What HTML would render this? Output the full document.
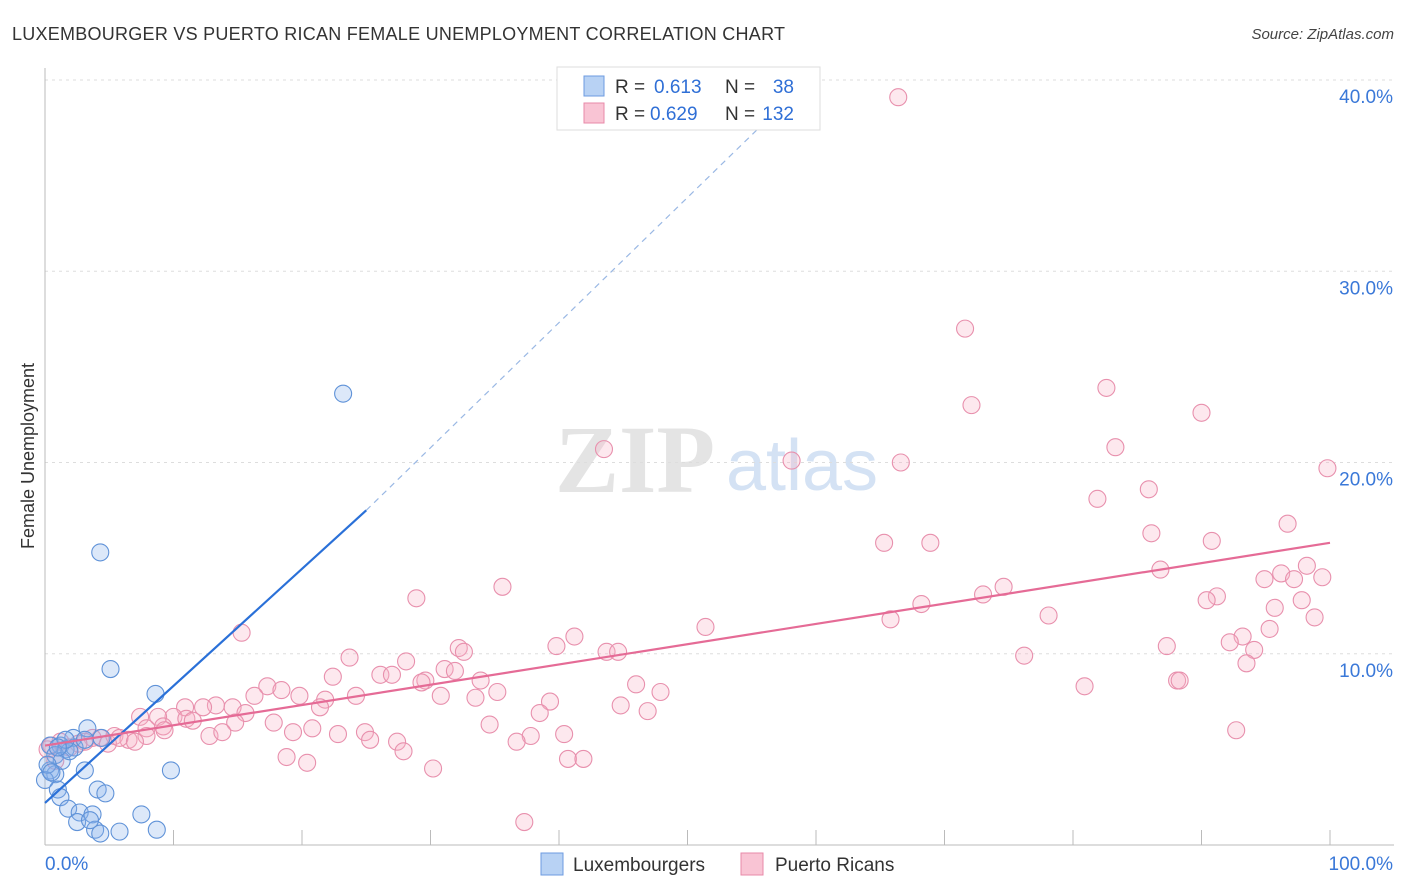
<!DOCTYPE html>
<html><head><meta charset="utf-8"><style>
body{margin:0;background:#fff;font-family:"Liberation Sans",sans-serif}
svg{display:block}
</style></head><body>
<svg id="chart" width="1406" height="892" viewBox="0 0 1406 892" xmlns="http://www.w3.org/2000/svg">
<text x="12" y="40" font-size="18" fill="#333" font-family="Liberation Sans" textLength="773">LUXEMBOURGER VS PUERTO RICAN FEMALE UNEMPLOYMENT CORRELATION CHART</text>
<text x="1394" y="39" font-size="15" fill="#444" font-style="italic" text-anchor="end">Source: ZipAtlas.com</text>
<g>
<text x="635" y="492" font-size="96" fill="#e4e4e4" font-family="Liberation Serif" text-anchor="middle" font-weight="bold">ZIP</text>
<text x="802" y="490" font-size="72" fill="#d4e2f4" text-anchor="middle">atlas</text>
</g>
<g id="grid"></g>
<g id="axes"></g>
<text transform="translate(34,456) rotate(-90)" font-size="18" fill="#333" text-anchor="middle">Female Unemployment</text>
<g id="marks"></g>
<g>
<rect x="557" y="67" width="263" height="63" fill="#fff" stroke="#ddd"/>
<rect x="584" y="76" width="20" height="20" fill="#b8d2f4" stroke="#6d9be0"/>
<rect x="584" y="103" width="20" height="20" fill="#f9c4d4" stroke="#e88aa8"/>
<text x="615" y="93" font-size="19" fill="#333">R =</text>
<text x="654" y="93" font-size="19" fill="#2f6fd6">0.613</text>
<text x="725" y="93" font-size="19" fill="#333">N =</text>
<text x="794" y="93" font-size="19" fill="#2f6fd6" text-anchor="end">38</text>
<text x="615" y="120" font-size="19" fill="#333">R =</text>
<text x="650" y="120" font-size="19" fill="#2f6fd6">0.629</text>
<text x="725" y="120" font-size="19" fill="#333">N =</text>
<text x="794" y="120" font-size="19" fill="#2f6fd6" text-anchor="end">132</text>
</g>
<g>
<rect x="541" y="853" width="22" height="22" fill="#b8d2f4" stroke="#6d9be0"/>
<text x="573" y="871" font-size="19" fill="#333">Luxembourgers</text>
<rect x="741" y="853" width="22" height="22" fill="#f9c4d4" stroke="#e88aa8"/>
<text x="775" y="871" font-size="19" fill="#333">Puerto Ricans</text>
</g>
</svg>
<script>
const yTicks=[10,20,30,40];
const yTickLabels=["10.0%","20.0%","30.0%","40.0%"];
const xTickVals=[0,10,20,30,40,50,60,70,80,90,100];
const blueX=[23.2,4.3,5.1,8.6,9.8,3.3,2.2,1.2,1.6,2.3,0.4,0.8,0,1.0,1.2,4.1,4.7,3.1,1.8,2.7,2.5,3.7,3.9,4.3,5.8,7.5,8.7,0.4,0.8,1.3,1.9,0.2,0.5,3.1,4.4,1.6,1.0,3.5];
const blueY=[23.6,15.3,9.2,7.9,3.9,6.1,5.6,5.2,5.0,5.1,3.9,3.7,3.4,2.9,2.5,2.9,2.7,3.9,1.9,1.7,1.2,1.6,0.8,0.6,0.7,1.6,0.8,5.2,4.7,4.4,4.9,4.2,3.8,5.5,5.6,5.5,5.1,1.3];
const pinkX=[66.4,71.6,72.1,82.6,90.0,83.3,43.5,58.1,66.6,99.8,81.9,85.9,96.7,65.3,68.9,86.1,90.8,86.8,96.2,98.2,94.9,99.4,97.2,74.6,73.0,68.2,65.8,91.2,90.4,95.7,97.8,98.8,78.1,95.3,93.2,92.2,94.1,87.3,93.5,76.2,88.1,88.3,80.9,92.7,35.6,28.9,15.3,41.2,51.4,39.8,32.2,32.6,43.7,44.6,23.7,28.1,31.1,31.9,22.4,26.1,27.0,17.3,18.4,29.6,29.3,33.9,46.0,47.9,35.2,30.8,33.5,39.3,19.8,21.8,24.2,16.3,13.3,14.6,21.4,10.9,12.3,44.8,46.9,38.5,15.6,17.8,7.4,10.0,8.8,11.0,11.5,14.8,7.9,9.2,34.6,20.8,7.9,9.3,12.8,13.8,19.3,22.8,24.9,25.3,27.4,37.8,40.4,36.7,27.9,18.8,20.4,40.7,41.9,30.2,37.3,4.3,5.4,6.5,3.7,3.1,2.6,1.2,0.5,0.2,1.9,4.9,5.8,7.0,0.8];
const pinkY=[39.1,27.0,23.0,23.9,22.6,20.8,20.7,20.1,20.0,19.7,18.1,18.6,16.8,15.8,15.8,16.3,15.9,14.4,14.2,14.6,13.9,14.0,13.9,13.5,13.1,12.6,11.8,13.0,12.8,12.4,12.8,11.9,12.0,11.3,10.9,10.6,10.2,10.4,9.5,9.9,8.6,8.6,8.3,6.0,13.5,12.9,11.1,10.9,11.4,10.4,10.3,10.1,10.1,10.1,9.8,9.6,9.2,9.1,8.8,8.9,8.9,8.3,8.1,8.6,8.5,8.6,8.4,8.0,8.0,7.8,7.7,7.5,7.8,7.6,7.8,7.8,7.3,7.2,7.2,7.2,7.2,7.3,7.0,6.9,6.9,6.4,6.7,6.7,6.7,6.6,6.5,6.4,6.1,6.2,6.3,6.1,5.7,6.0,5.7,5.9,5.9,5.8,5.9,5.5,5.4,5.7,5.8,5.4,4.9,4.6,4.3,4.5,4.5,4.0,1.2,5.6,5.7,5.5,5.6,5.4,5.3,5.4,5.2,5.0,5.1,5.3,5.6,5.4,4.4];
const blueTrend=[[0,2.2],[25,17.5],[60,40.4]];
const pinkTrend=[[0,5.2],[100,15.8]];

const NS="http://www.w3.org/2000/svg";
const sx=v=>45+v*12.85, sy=v=>845-v*19.125;
function mk(tag,attrs,parent){const e=document.createElementNS(NS,tag);for(const k in attrs)e.setAttribute(k,attrs[k]);parent.appendChild(e);return e;}
const grid=document.getElementById('grid'),axes=document.getElementById('axes'),marks=document.getElementById('marks');
yTicks.forEach((t,i)=>{
 const l=mk('line',{x1:45,x2:1394,y1:sy(t),y2:sy(t),stroke:'#ddd','stroke-dasharray':'3,4'},grid);
 
 
 const tx=mk('text',{x:1393,y:sy(t)+23,'font-size':19,fill:'#3a78d8','text-anchor':'end'},axes);
 tx.textContent=yTickLabels[i];
 
 
});
const ya=mk('line',{x1:45,x2:45,y1:68,y2:845,stroke:'#bbb'},axes);


const xa=mk('line',{x1:45,x2:1394,y1:845,y2:845,stroke:'#bbb'},axes);


xTickVals.forEach(t=>{
 const l=mk('line',{x1:sx(t),x2:sx(t),y1:830,y2:845,stroke:'#bbb'},axes);
 
 
});
const x0=mk('text',{x:45,y:870,'font-size':19,fill:'#3a78d8'},axes);x0.textContent='0.0%';


const x1=mk('text',{x:1393,y:870,'font-size':19,fill:'#3a78d8','text-anchor':'end'},axes);x1.textContent='100.0%';



pinkX.forEach((v,i)=>{
 const c=mk('circle',{cx:sx(v),cy:sy(pinkY[i]),r:8.5,fill:'rgba(248,180,200,0.3)',stroke:'#e890ad','stroke-width':1.1},marks);
 
 
});
blueX.forEach((v,i)=>{
 const c=mk('circle',{cx:sx(v),cy:sy(blueY[i]),r:8.5,fill:'rgba(140,180,235,0.3)',stroke:'#5f92d8','stroke-width':1.1},marks);
 
 
});
const bl=mk('line',{x1:sx(blueTrend[0][0]),y1:sy(blueTrend[0][1]),x2:sx(blueTrend[1][0]),y2:sy(blueTrend[1][1]),stroke:'#2a70d8','stroke-width':2.2},marks);


const bd=mk('line',{x1:sx(blueTrend[1][0]),y1:sy(blueTrend[1][1]),x2:sx(blueTrend[2][0]),y2:sy(blueTrend[2][1]),stroke:'#9ab8e4','stroke-width':1.2,'stroke-dasharray':'6,5'},marks);


const pl=mk('line',{x1:sx(pinkTrend[0][0]),y1:sy(pinkTrend[0][1]),x2:sx(pinkTrend[1][0]),y2:sy(pinkTrend[1][1]),stroke:'#e56b96','stroke-width':2.2},marks);


</script>
</body></html>
